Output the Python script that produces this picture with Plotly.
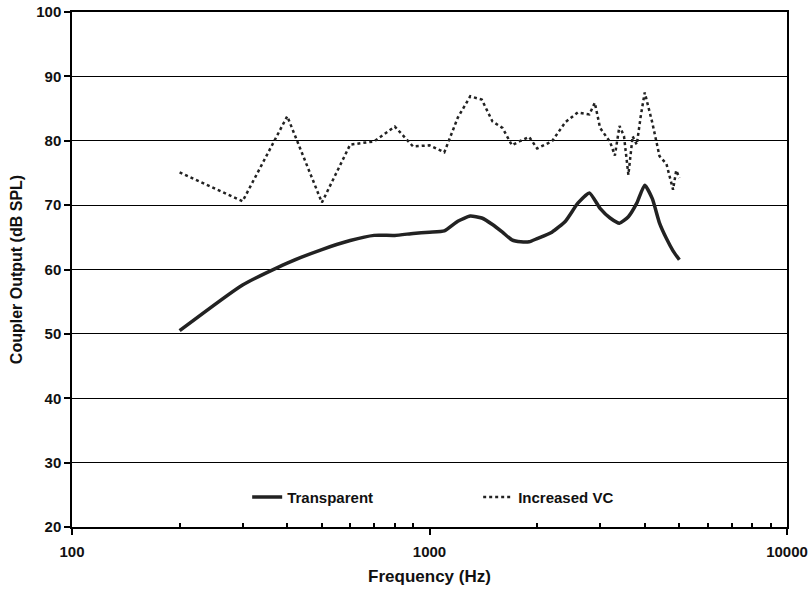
import plotly.graph_objects as go

# Transparent (solid)
freq_transparent = [200, 300, 400, 500, 600, 700, 800, 900, 1000, 1100, 1200, 1300, 1400,
                    1500, 1600, 1700, 1800, 1900, 2000, 2200, 2400, 2600, 2800, 3000,
                    3200, 3400, 3600, 3800, 4000, 4200, 4400, 4600, 4800, 5000]
out_transparent = [50.5, 57.6, 61.0, 63.1, 64.5, 65.3, 65.3, 65.6, 65.8, 66.0, 67.5, 68.3, 68.0,
                   67.0, 65.8, 64.6, 64.3, 64.3, 64.8, 65.8, 67.5, 70.3, 71.9, 69.5,
                   68.0, 67.2, 68.2, 70.3, 73.1, 71.0, 67.2, 64.8, 62.9, 61.5]

# Increased VC (dotted)
freq_vc = [200, 300, 400, 500, 600, 700, 800, 900, 1000, 1100, 1200, 1300, 1400,
           1500, 1600, 1700, 1800, 1900, 2000, 2200, 2400, 2600, 2800, 2900, 3000,
           3200, 3300, 3400, 3500, 3600, 3700, 3800, 3900, 4000, 4200, 4400, 4600,
           4800, 4900, 5000]
out_vc = [75.1, 70.6, 83.8, 70.4, 79.4, 79.9, 82.2, 79.1, 79.3, 78.2, 83.6, 86.9, 86.4,
          83.0, 82.0, 79.3, 80.0, 80.6, 78.8, 79.9, 82.9, 84.4, 84.1, 85.9, 82.0,
          79.8, 77.7, 82.3, 80.7, 74.7, 80.7, 79.4, 83.9, 87.5, 82.8, 77.6, 76.4,
          72.4, 75.4, 74.2]

y_ticks = [20, 30, 40, 50, 60, 70, 80, 90, 100]
x_ticks = [100, 1000, 10000]
x_minor_ticks = [200, 300, 400, 500, 600, 700, 800, 900,
                 2000, 3000, 4000, 5000, 6000, 7000, 8000, 9000]

FONT = "Liberation Sans, Arial, sans-serif"

fig = go.Figure()
fig.add_trace(go.Scatter(x=freq_transparent, y=out_transparent, mode="lines",
                         name="Transparent",
                         line=dict(color="#222222", width=3.5, shape="spline", smoothing=0.5)))
fig.add_trace(go.Scatter(x=freq_vc, y=out_vc, mode="lines",
                         name="Increased VC",
                         line=dict(color="#222222", width=2.5, dash="dot")))

fig.update_layout(
    width=812, height=591,
    margin=dict(l=72, r=25, t=12, b=64, autoexpand=False),
    paper_bgcolor="white", plot_bgcolor="white",
    font=dict(family=FONT, color="#111111", size=15, weight="bold"),
    showlegend=True,
    legend=dict(orientation="h", x=0.245, xanchor="left", y=0.058, yanchor="middle",
                bgcolor="rgba(0,0,0,0)", entrywidth=186, entrywidthmode="pixels",
                font=dict(size=15, family=FONT, weight="bold"), tracegroupgap=0),
)
fig.update_xaxes(
    type="log", range=[2, 4],
    tickvals=x_ticks, ticktext=[str(v) for v in x_ticks],
    ticks="outside", ticklen=6, tickwidth=1.5, tickcolor="black",
    ticklabelstandoff=4,
    showline=True, linecolor="black", linewidth=1.5, mirror=True,
    showgrid=False, zeroline=False,
    minor=dict(ticks="inside", ticklen=4, tickcolor="black", showgrid=False,
               tickvals=x_minor_ticks),
    tickfont=dict(size=15, family=FONT, weight="bold"),
    title=dict(text="Frequency (Hz)", font=dict(size=17, family=FONT, weight="bold"),
               standoff=11),
)
fig.update_yaxes(
    range=[20, 100], tickvals=y_ticks,
    ticks="outside", ticklen=6, tickwidth=1.5, tickcolor="black",
    showline=True, linecolor="black", linewidth=1.5, mirror=True,
    showgrid=True, gridcolor="black", gridwidth=1, zeroline=False,
    tickfont=dict(size=15, family=FONT, weight="bold"),
    title=dict(text="Coupler Output (dB SPL)", font=dict(size=16, family=FONT, weight="bold"),
               standoff=10),
)

fig.write_html("out.html", config={"displayModeBar": False},
               post_script="document.body.style.margin='0';")
